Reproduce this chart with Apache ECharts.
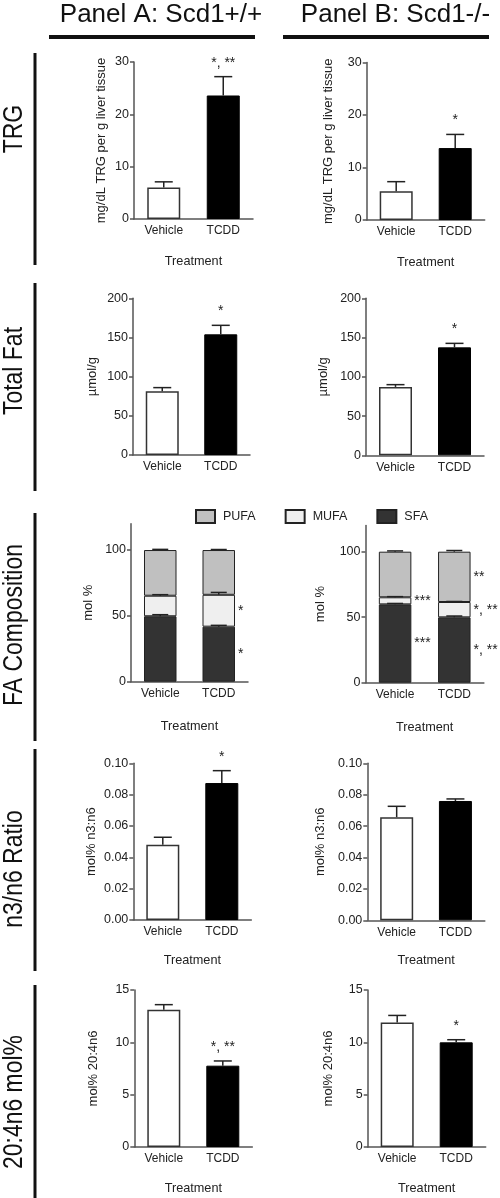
<!DOCTYPE html>
<html>
<head>
<meta charset="utf-8">
<script src="https://cdn.jsdelivr.net/npm/echarts@6/dist/echarts.min.js"></script>
<style>
html,body{margin:0;padding:0;background:#fff;}
#c{width:500px;height:1198px;}
</style>
</head>
<body>
<div id="c"></div>
<script>
// ---------------- data ----------------
const categories = ['Vehicle', 'TCDD'];

const trgTicks = [0, 10, 20, 30];
const trgA = [6.0, 23.6],  trgAErr = [1.1, 3.6],  trgASig = ['', '*, **'];
const trgB = [5.5, 13.7],  trgBErr = [1.8, 2.6],  trgBSig = ['', '*'];

const fatTicks = [0, 50, 100, 150, 200];
const fatA = [81.3, 154.0], fatAErr = [4.7, 11.5], fatASig = ['', '*'];
const fatB = [87.1, 137.5], fatBErr = [2.9, 5.1],  fatBSig = ['', '*'];

const faTicks = [0, 50, 100];
const faAxisMax = 120;
const faA_SFA  = [49.7, 41.8], faA_SFAErr  = [1.2, 1.0], faA_SFASig  = ['', '*'];
const faA_MUFA = [15.6, 24.2], faA_MUFAErr = [0.8, 1.8], faA_MUFASig = ['', '*'];
const faA_PUFA = [34.7, 34.0], faA_PUFAErr = [0.5, 0.4], faA_PUFASig = ['', ''];
const faB_SFA  = [59.8, 49.9], faB_SFAErr  = [0.7, 1.0], faB_SFASig  = ['***', '*, **'];
const faB_MUFA = [5.4, 11.7],  faB_MUFAErr = [0.5, 0.4], faB_MUFASig = ['***', '*, **'];
const faB_PUFA = [34.8, 38.4], faB_PUFAErr = [0.6, 0.9], faB_PUFASig = ['', '**'];

const n3Ticks = [0, 0.02, 0.04, 0.06, 0.08, 0.10];
const n3A = [0.0480, 0.0874], n3AErr = [0.0048, 0.0079], n3ASig = ['', '*'];
const n3B = [0.0657, 0.0760], n3BErr = [0.0069, 0.0013], n3BSig = ['', ''];

const aaTicks = [0, 5, 10, 15];
const aaA = [13.12, 7.77], aaAErr = [0.48, 0.45], aaASig = ['', '*, **'];
const aaB = [11.90, 10.00], aaBErr = [0.67, 0.25], aaBSig = ['', '*'];

const rowLabels = ['TRG', 'Total Fat', 'FA Composition', 'n3/n6 Ratio', '20:4n6 mol%'];
const panelTitles = ['Panel A: Scd1+/+', 'Panel B: Scd1-/-'];
const legendNames = ['PUFA', 'MUFA', 'SFA'];

// ---------------- layout / style ----------------
const FONT = '"Liberation Sans", Arial, Helvetica, sans-serif';
const AX = '#555';
const INK = '#222';
const STAR_FONT = '14px ' + FONT;

const grids = [
  {left: 134,   top: 62,    width: 119,   height: 157},
  {left: 366.7, top: 62.5,  width: 118,   height: 157.5},
  {left: 133,   top: 298.3, width: 117,   height: 156.7},
  {left: 366,   top: 298.3, width: 118,   height: 157},
  {left: 131,   top: 523.7, width: 117,   height: 158},
  {left: 365.5, top: 525.5, width: 118.4, height: 157.2},
  {left: 133.3, top: 763.3, width: 118,   height: 156.7},
  {left: 367.3, top: 763.3, width: 117.5, height: 157},
  {left: 134.3, top: 990,   width: 118,   height: 157},
  {left: 367.7, top: 990,   width: 118,   height: 157}
];

const yNames = ['mg/dL TRG per g liver tissue', 'mg/dL TRG per g liver tissue',
  '\u00b5mol/g', '\u00b5mol/g', 'mol %', 'mol %', 'mol% n3:n6', 'mol% n3:n6',
  'mol% 20:4n6', 'mol% 20:4n6'];
const yNameGaps = [26, 32, 34, 36, 36, 39, 35, 40, 34, 33];
const xNames = ['Treatment', 'Treatment', '', '', 'Treatment', 'Treatment',
  'Treatment', 'Treatment', 'Treatment', 'Treatment'];
const xNameGaps = [36, 36, 0, 0, 38, 38, 34, 34, 35, 35];
const tickSets = [trgTicks, trgTicks, fatTicks, fatTicks, faTicks, faTicks,
  n3Ticks, n3Ticks, aaTicks, aaTicks];

const xAxes = grids.map((g, i) => ({
  type: 'category', gridIndex: i, data: categories,
  axisLine: {lineStyle: {color: AX, width: 1.5}},
  axisTick: {alignWithLabel: true, length: 3, lineStyle: {color: AX, width: 1.5}},
  axisLabel: {color: INK, fontSize: 12, margin: 6, fontFamily: FONT},
  name: xNames[i], nameLocation: 'middle', nameGap: xNameGaps[i],
  nameTextStyle: {color: INK, fontSize: 12.7, fontFamily: FONT}
}));

const yAxes = grids.map((g, i) => {
  const t = tickSets[i];
  const isFA = (i === 4 || i === 5);
  const ax = {
    type: 'value', gridIndex: i,
    min: t[0], max: isFA ? faAxisMax : t[t.length - 1], interval: t[1] - t[0],
    splitLine: {show: false},
    axisLine: {show: true, lineStyle: {color: AX, width: 1.5}},
    axisTick: {show: true, length: 4, lineStyle: {color: AX, width: 1.5}},
    axisLabel: {color: INK, fontSize: 12.5, margin: 5, fontFamily: FONT,
      formatter: v => (i === 6 || i === 7) ? v.toFixed(2) : String(v)},
    name: yNames[i], nameLocation: 'middle', nameGap: yNameGaps[i],
    nameTextStyle: {color: INK, fontSize: 13, fontFamily: FONT}
  };
  if (isFA) {
    ax.axisLabel.customValues = t;
    ax.axisTick.customValues = t;
  }
  return ax;
});

function simpleBar(gi, vals) {
  return {
    type: 'bar', xAxisIndex: gi, yAxisIndex: gi, barWidth: 33,
    data: vals.map((v, k) => ({
      value: v,
      itemStyle: k === 0
        ? {color: '#ffffff', borderColor: '#333', borderWidth: 1.5}
        : {color: '#000000', borderColor: '#000', borderWidth: 1}
    })),
    z: 2, silent: true
  };
}

function errBars(gi, bases, tops, sigs, capHalf) {
  return {
    type: 'custom', xAxisIndex: gi, yAxisIndex: gi, z: 4, silent: true,
    data: bases.map((b, k) => [k, b, tops[k]]),
    renderItem: function (params, api) {
      const p0 = api.coord([api.value(0), api.value(1)]);
      const p1 = api.coord([api.value(0), api.value(2)]);
      const children = [
        {type: 'line', shape: {x1: p0[0], y1: p0[1], x2: p1[0], y2: p1[1]},
          style: {stroke: '#222', lineWidth: 1.5}},
        {type: 'line', shape: {x1: p1[0] - capHalf, y1: p1[1], x2: p1[0] + capHalf, y2: p1[1]},
          style: {stroke: '#222', lineWidth: 1.5}}
      ];
      const s = sigs ? sigs[params.dataIndex] : '';
      if (s) {
        children.push({type: 'text', style: {text: s, x: p1[0], y: p1[1] - 7,
          align: 'center', verticalAlign: 'bottom', fill: INK, font: STAR_FONT}});
      }
      return {type: 'group', children: children};
    }
  };
}

function addTop(vals, errs) { return vals.map((v, k) => v + errs[k]); }

function faStack(gi, stackName, sfa, mufa, pufa, sSig, mSig, pSig) {
  const mk = (name, vals, color, sig) => ({
    type: 'bar', name: name, stack: stackName, xAxisIndex: gi, yAxisIndex: gi,
    barWidth: 32.5, data: vals, silent: true,
    itemStyle: {color: color, borderColor: '#222', borderWidth: 1},
    label: {show: true, position: 'right', distance: 3, color: INK, fontSize: 14,
      fontFamily: FONT, formatter: p => sig[p.dataIndex]}
  });
  return [
    mk('SFA', sfa, '#333333', sSig),
    mk('MUFA', mufa, '#efefef', mSig),
    mk('PUFA', pufa, '#c0c0c0', pSig)
  ];
}

function faErr(gi, sfa, mufa, pufa, se, me, pe) {
  const s1 = sfa.slice();
  const s2 = sfa.map((v, k) => v + mufa[k]);
  const s3 = s2.map((v, k) => v + pufa[k]);
  return [
    errBars(gi, s1, addTop(s1, se), null, 8),
    errBars(gi, s2, addTop(s2, me), null, 8),
    errBars(gi, s3, addTop(s3, pe), null, 8)
  ];
}

const series = [
  simpleBar(0, trgA), errBars(0, trgA, addTop(trgA, trgAErr), trgASig, 9),
  simpleBar(1, trgB), errBars(1, trgB, addTop(trgB, trgBErr), trgBSig, 9),
  simpleBar(2, fatA), errBars(2, fatA, addTop(fatA, fatAErr), fatASig, 9),
  simpleBar(3, fatB), errBars(3, fatB, addTop(fatB, fatBErr), fatBSig, 9),
  ...faStack(4, 'A', faA_SFA, faA_MUFA, faA_PUFA, faA_SFASig, faA_MUFASig, faA_PUFASig),
  ...faErr(4, faA_SFA, faA_MUFA, faA_PUFA, faA_SFAErr, faA_MUFAErr, faA_PUFAErr),
  ...faStack(5, 'B', faB_SFA, faB_MUFA, faB_PUFA, faB_SFASig, faB_MUFASig, faB_PUFASig),
  ...faErr(5, faB_SFA, faB_MUFA, faB_PUFA, faB_SFAErr, faB_MUFAErr, faB_PUFAErr),
  simpleBar(6, n3A), errBars(6, n3A, addTop(n3A, n3AErr), n3ASig, 9),
  simpleBar(7, n3B), errBars(7, n3B, addTop(n3B, n3BErr), n3BSig, 9),
  simpleBar(8, aaA), errBars(8, aaA, addTop(aaA, aaAErr), aaASig, 9),
  simpleBar(9, aaB), errBars(9, aaB, addTop(aaB, aaBErr), aaBSig, 9)
];

// ---------------- decorations ----------------
const rowCenters = [129, 371, 625, 869, 1102];
const rowLines = [[53, 265], [283, 491], [513, 741], [749, 971], [985, 1198]];
const graphics = [];
panelTitles.forEach((t, k) => {
  graphics.push({type: 'text', x: k === 0 ? 161 : 395.5, y: 15,
    style: {text: t, font: '26px ' + FONT, fill: '#111', align: 'center', verticalAlign: 'middle'}});
  graphics.push({type: 'line', shape: k === 0 ? {x1: 49, y1: 37, x2: 255, y2: 37} : {x1: 283, y1: 37, x2: 489, y2: 37},
    style: {stroke: '#111', lineWidth: 4}});
});
rowLabels.forEach((t, k) => {
  graphics.push({type: 'text', x: 15, y: rowCenters[k], rotation: Math.PI / 2,
    scaleX: 0.85, scaleY: 1,
    style: {text: t, font: '27px ' + FONT, fill: '#111',
      align: 'center', verticalAlign: 'middle'}});
  graphics.push({type: 'line', shape: {x1: 35, y1: rowLines[k][0], x2: 35, y2: rowLines[k][1]},
    style: {stroke: '#111', lineWidth: 3}});
});

const chart = echarts.init(document.getElementById('c'), null, {renderer: 'canvas'});
chart.setOption({
  animation: false,
  backgroundColor: '#ffffff',
  textStyle: {fontFamily: FONT},
  grid: grids,
  xAxis: xAxes,
  yAxis: yAxes,
  legend: {
    data: legendNames, left: 195, top: 509, padding: 0,
    itemWidth: 19, itemHeight: 13, itemGap: 29,
    icon: 'rect', selectedMode: false,
    textStyle: {color: INK, fontSize: 12.5, fontFamily: FONT, padding: [0, 0, 0, 3]}
  },
  series: series,
  graphic: graphics
});
</script>
</body>
</html>
